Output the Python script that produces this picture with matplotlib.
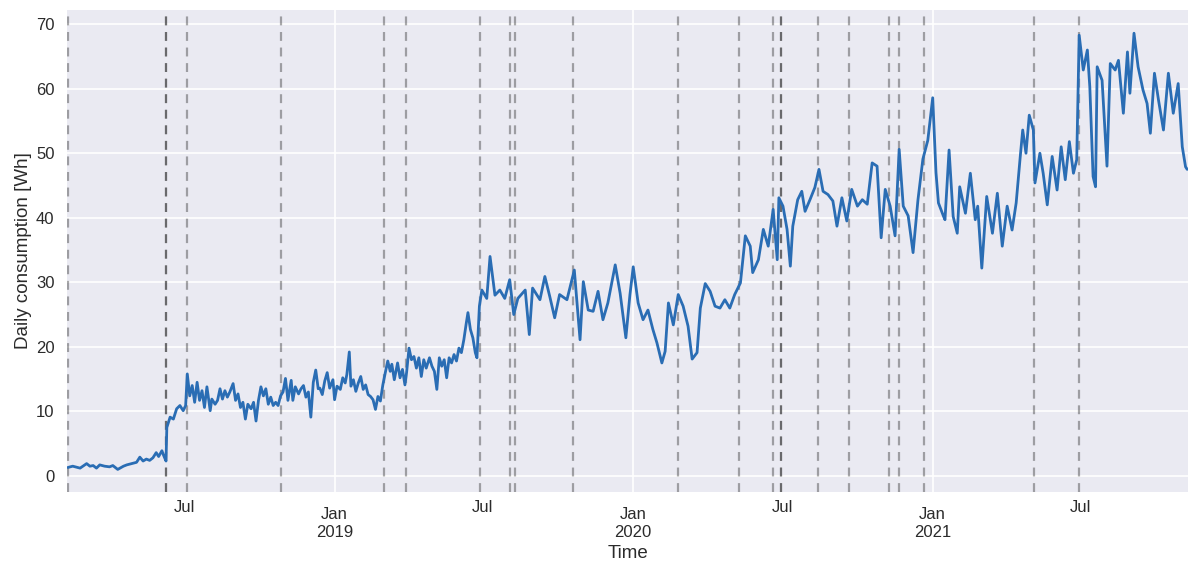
import matplotlib
matplotlib.use("Agg")
import matplotlib.pyplot as plt
import matplotlib.dates as mdates
import numpy as np
import pandas as pd

# days since the first reading and the daily consumption on that day [Wh]
start = pd.Timestamp("2018-02-09")
days = [
    0, 6, 15, 23, 27, 31, 35, 39, 45, 51, 55, 61, 68, 72, 78, 84, 88, 92, 96, 100,
    104, 108, 111, 115, 117, 120,
    121, 125, 129, 133, 137, 141, 144, 146, 149, 152, 155, 158, 161, 164, 167, 170,
    174, 176, 180, 183, 186, 189, 192, 195, 198, 202, 205, 208, 211, 214, 217, 220,
    224, 227, 230, 233, 236, 239, 242, 245, 248, 251, 254, 257, 260, 263, 266, 269,
    273, 275, 278, 282, 285, 288, 291, 294, 297, 300, 303, 306,
    308, 311, 314, 317, 320, 324, 326, 329, 333, 336, 339, 341, 344, 346, 349, 352,
    355, 358, 361, 364, 367, 370, 373, 376, 379, 382, 385, 388, 391, 394, 396, 399,
    403, 406, 409, 412, 414, 417, 420, 423, 426, 429, 432, 435, 438, 442, 445, 448,
    451, 454, 457, 460, 463, 466, 469, 472, 475, 478, 481, 484, 487, 489, 492, 495,
    498, 500, 503,
    506, 512, 516, 522, 528, 534, 540, 545, 550, 559, 564, 568,
    577, 583, 589, 595, 601, 610, 619, 626, 630, 636, 642, 648, 654, 660, 669, 675,
    682, 687, 691, 697, 703, 709, 715, 720, 726, 730, 734, 740, 746, 752, 758, 763,
    769, 773, 779, 785, 791, 797, 803, 809, 815, 822, 828, 834, 837, 844, 850, 856,
    862, 867, 869, 874, 879, 883, 886, 892, 897, 901, 907, 913, 918, 923, 929, 935,
    940, 946, 952, 958, 965, 971, 977, 983, 989, 994, 999, 1005, 1011, 1016, 1021,
    1027, 1033, 1039, 1045, 1051, 1057, 1061, 1064, 1070, 1072, 1077, 1082, 1087,
    1090, 1097, 1103, 1109, 1112, 1117, 1123, 1130, 1136, 1142, 1148, 1154, 1159,
    1164, 1167, 1171, 1175, 1180, 1182, 1188, 1192, 1197, 1203, 1209, 1214, 1219,
    1224, 1229, 1233, 1236, 1241, 1246, 1249, 1253, 1256, 1258, 1264, 1270, 1274,
    1280, 1284, 1290, 1295, 1298, 1303, 1308, 1314, 1319, 1323, 1328, 1333, 1339,
    1345, 1351, 1357, 1362, 1366, 1368,
]
consumption = [
    1.3, 1.5, 1.2, 1.9, 1.5, 1.6, 1.2, 1.7, 1.5, 1.4, 1.6, 1.0, 1.5, 1.7, 1.9, 2.1, 2.9, 2.3, 2.6, 2.4,
    2.8, 3.6, 3.0, 3.9, 3.2, 2.3,
    7.5, 9.1, 8.8, 10.4, 10.9, 10.1, 10.9, 15.8, 12.4, 14.0, 11.4, 14.5, 11.7, 13.2, 10.6, 13.8,
    10.1, 11.9, 11.1, 11.7, 13.5, 11.9, 13.2, 12.2, 13.0, 14.3, 11.7, 12.7, 10.6, 11.4, 8.8, 11.1,
    10.4, 11.4, 8.5, 11.7, 13.8, 12.4, 13.5, 11.1, 12.2, 10.9, 11.4, 10.9, 12.4, 13.0, 15.1, 11.7,
    14.8, 11.7, 13.8, 12.7, 13.5, 14.0, 12.2, 13.0, 9.1, 14.5, 16.4, 13.5,
    13.6, 12.6, 14.7, 16.0, 13.6, 14.9, 11.8, 13.9, 13.4, 15.2, 14.4, 15.7, 19.2, 13.9, 14.9, 13.1,
    14.4, 15.4, 13.4, 14.1, 12.6, 12.3, 11.8, 10.3, 12.3, 11.6, 14.1, 16.0, 17.8, 16.2, 17.3, 14.9,
    17.5, 15.2, 16.5, 14.1, 16.0, 19.8, 18.0, 18.5, 16.7, 18.3, 15.4, 18.0, 16.7, 18.3, 17.0, 16.2,
    13.4, 18.3, 17.0, 18.0, 15.2, 18.3, 17.5, 18.8, 17.8, 19.8, 19.1, 21.1, 23.7, 25.3, 22.7, 21.4,
    19.1, 18.3, 26.3,
    28.8, 27.5, 34.0, 28.0, 28.8, 27.5, 30.4, 25.0, 27.5, 28.8, 21.9, 29.1,
    27.3, 30.9, 27.8, 24.5, 28.1, 27.3, 31.9, 21.1, 30.1, 25.7, 25.5, 28.6, 24.2, 26.8, 32.7, 28.3,
    21.4, 28.1, 32.4, 26.8, 24.2, 25.7, 22.7, 20.6, 17.5, 19.3, 26.8, 23.4, 28.1, 26.3, 23.2, 18.1,
    19.1, 26.0, 29.8, 28.6, 26.3, 26.0, 27.3, 26.0, 28.1, 29.9, 37.2, 35.6, 31.5, 33.5, 38.2, 35.6,
    41.3, 33.5, 43.1, 41.8, 38.2, 32.5, 38.7, 42.8, 44.1, 41.0, 42.8, 44.7, 47.5, 44.1, 43.6, 42.6,
    38.7, 43.1, 39.5, 44.4, 41.8, 42.8, 42.1, 48.5, 48.0, 36.9, 44.4, 41.8, 37.2, 50.6, 41.8,
    40.3, 34.6, 42.8, 49.1, 52.0, 58.6, 47.0, 42.3, 40.3, 39.7, 50.5, 40.2, 37.6,
    44.8, 40.7, 46.9, 39.7, 41.8, 32.2, 43.3, 37.6, 43.8, 35.6, 41.8, 38.1, 42.3,
    49.5, 53.6, 50.0, 55.9, 53.6, 45.4, 50.0, 46.9, 42.0, 49.5, 44.3, 51.0, 45.9,
    51.8, 46.9, 49.0, 68.3, 62.9, 66.0, 60.3, 46.4, 44.8, 63.4, 61.3, 48.0, 63.9,
    62.9, 64.4, 56.2, 65.7, 59.3, 68.6, 63.4, 59.8, 57.7, 53.1, 62.4, 58.2, 53.6,
    62.4, 56.2, 60.8, 51.0, 47.9, 47.5,
]

# dates of the detected events (repeated dates drawn twice)
events = [
    "2018-02-09", "2018-06-09", "2018-06-09", "2018-07-05", "2018-10-27",
    "2019-03-03", "2019-03-29", "2019-06-28", "2019-08-03", "2019-08-09",
    "2019-10-19", "2020-02-25", "2020-05-09", "2020-06-20", "2020-06-30",
    "2020-06-30", "2020-08-14", "2020-09-21", "2020-11-09", "2020-11-21",
    "2020-12-21", "2021-05-05", "2021-06-29",
]

dates = start + pd.to_timedelta(days, unit="D")

plt.style.use("seaborn-v0_8-darkgrid")
plt.rcParams["font.family"] = ["Liberation Sans", "DejaVu Sans"]
text_color = "#2b2b2b"

fig = plt.figure(figsize=(11.88, 5.64), dpi=100)
ax = fig.add_axes([67 / 1188, 72 / 564, 1121 / 1188, 482 / 564])

ax.plot(dates, consumption, color="#2a6db4", lw=2.0, zorder=3)
for ev in events:
    ax.axvline(pd.Timestamp(ev), color="black", alpha=0.33, lw=1.6,
               linestyle=(0, (4, 3)), zorder=2)

ax.set_xlim(pd.Timestamp("2018-02-08"), pd.Timestamp("2021-11-09"))
ax.set_ylim(-2.5, 72.2)
ax.set_yticks(np.arange(0, 71, 10))

ax.xaxis.set_major_locator(mdates.MonthLocator(bymonth=1))
ax.xaxis.set_major_formatter(mdates.DateFormatter("%b\n%Y"))
ax.xaxis.set_minor_locator(mdates.MonthLocator(bymonth=7))
ax.xaxis.set_minor_formatter(mdates.DateFormatter("%b"))
ax.tick_params(axis="x", which="major", pad=11, labelsize=12, colors=text_color)
ax.tick_params(axis="x", which="minor", pad=6, labelsize=12, colors=text_color)
ax.tick_params(axis="y", pad=9, labelsize=12, colors=text_color)
ax.grid(True, which="major", color="white", lw=1.2)
ax.grid(False, which="minor")

ax.set_xlabel("Time", fontsize=13.5, color=text_color, labelpad=4)
ax.set_ylabel("Daily consumption [Wh]", fontsize=13.5, color=text_color, labelpad=3)

fig.savefig("out.png", dpi=100)
